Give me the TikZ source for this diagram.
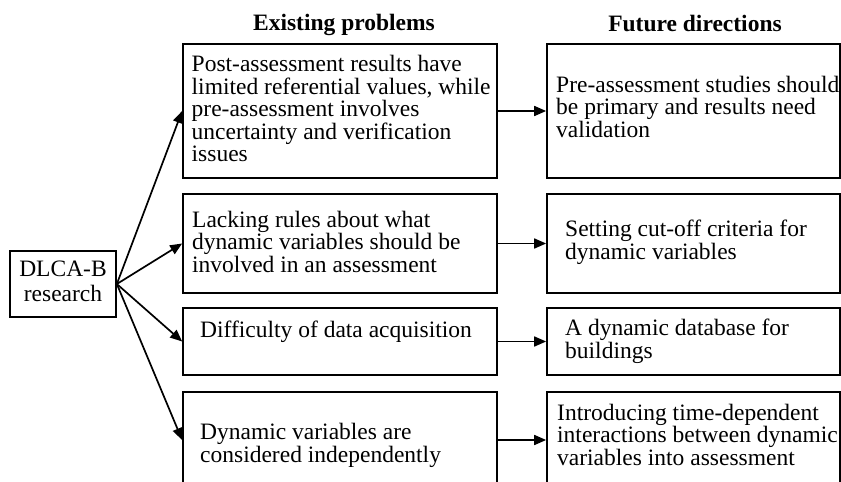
\documentclass[tikz,border=0pt]{standalone}
\usepackage{fontspec}
\setmainfont{Liberation Serif}
\usetikzlibrary{arrows.meta}
\begin{document}
\begin{tikzpicture}[x=1pt,y=-1pt,
  box/.style={draw, line width=1.7pt, inner sep=0pt, anchor=center},
  lbox/.style={box, minimum width=314pt},
  rbox/.style={box, minimum width=293pt},
  txt/.style={anchor=base west, align=left, inner sep=0pt,
    font=\fontsize{23.5}{22.5}\selectfont},
  head/.style={anchor=base, inner sep=0pt,
    font=\fontsize{23.5}{22.5}\selectfont\bfseries},
  arr/.style={line width=1.7pt, -{Triangle[length=12pt,width=10pt]}}]
\useasboundingbox (0,0) rectangle (841,482);

% column headings
\node[head] (h1) at (344,30) {Existing problems};
\node[head] (h2) at (695,31) {Future directions};

% root box (text placed by the baseline of its last line)
\node[box, minimum width=106pt, minimum height=66pt] (d) at (63,284) {};
\node[txt, anchor=base, align=center, font=\fontsize{23.5}{25}\selectfont]
  (dt) at (63,301.7) {DLCA-B\\research};

% existing problems
\node[lbox, minimum height=134pt] (l1) at (340,111) {};
\node[lbox, minimum height=99pt]  (l2) at (340,243.5) {};
\node[lbox, minimum height=67pt]  (l3) at (340,341.5) {};
\node[lbox, minimum height=96pt]  (l4) at (340,440) {};

\node[txt] (lt1) at (191.5,161.7) {Post-assessment results have\\limited referential values, while\\pre-assessment involves\\uncertainty and verification\\issues};
\node[txt] (lt2) at (192,272) {Lacking rules about what\\dynamic variables should be\\involved in an assessment};
\node[txt] (lt3) at (200,337) {Difficulty of data acquisition};
\node[txt] (lt4) at (200,462) {Dynamic variables are\\considered independently};

% future directions
\node[rbox, minimum height=134pt] (r1) at (693.5,111) {};
\node[rbox, minimum height=99pt]  (r2) at (693.5,243.5) {};
\node[rbox, minimum height=67pt]  (r3) at (693.5,341.5) {};
\node[rbox, minimum height=96pt]  (r4) at (693.5,440) {};

\node[txt] (rt1) at (556,137) {Pre-assessment studies should\\be primary and results need\\validation};
\node[txt] (rt2) at (565,259) {Setting cut-off criteria for\\dynamic variables};
\node[txt] (rt3) at (565,358) {A dynamic database for\\buildings};
\node[txt] (rt4) at (557,465) {Introducing time-dependent\\interactions between dynamic\\variables into assessment};

% connectors
\foreach \i in {1,...,4} {
  \draw[arr] (d.east) -- (l\i.west);
  \draw[arr] (l\i.east) -- (r\i.west);
}
\end{tikzpicture}
\end{document}
